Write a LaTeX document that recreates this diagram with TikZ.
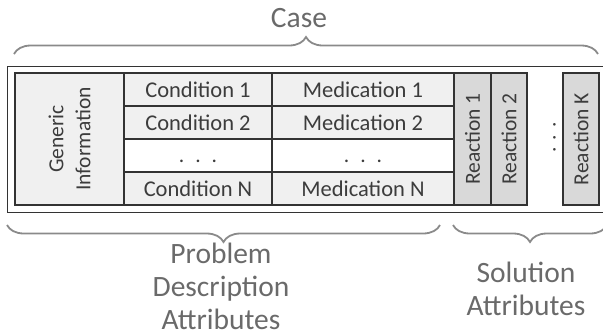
\documentclass[tikz,border=0pt]{standalone}
\usepackage{fontspec}
\setmainfont{Carlito}
\usetikzlibrary{decorations.pathreplacing}
\definecolor{edge}{HTML}{333333}
\definecolor{cellfill}{HTML}{F0F0F0}
\definecolor{reactfill}{HTML}{D9D9D9}
\definecolor{celltext}{HTML}{3C3C3C}
\definecolor{labeltext}{HTML}{6A6A6A}
\definecolor{bracecol}{HTML}{8A8A8A}

\begin{document}
\begin{tikzpicture}[x=1pt,y=-1pt,
  frame/.style={draw=edge, line width=1.1pt},
  cell/.style={frame, fill=cellfill, inner sep=0pt, outer sep=0pt, anchor=north west,
    text=celltext, font=\fontsize{22.5}{26}\selectfont},
  blank/.style={cell, fill=white},
  rcell/.style={cell, anchor=center, fill=reactfill, rotate=90,
    minimum width=132pt, font=\fontsize{21.5}{25}\selectfont},
  dotrow/.style={inner sep=0pt, text=celltext, font=\fontsize{21.5}{25}\selectfont},
  label/.style={text=labeltext, font=\fontsize{29.5}{33}\selectfont,
    align=center, inner sep=0pt},
  bracket/.style={draw=bracecol, line width=1.8pt, decorate,
    decoration={brace, amplitude=17pt}},
]
\useasboundingbox (0,0) rectangle (603,330);
\clip (0,0) rectangle (603,330);

% outer case frame (runs past the right edge)
\node[frame, fill=white, anchor=north west, inner sep=0pt,
  minimum width=600pt, minimum height=146pt] (caseframe) at (7,66) {};

% generic information block
\node[cell, anchor=center, rotate=90, align=center, minimum width=132pt,
  minimum height=109pt, font=\fontsize{21.5}{27}\selectfont] (gen) at (69.5,139) {Generic\\Information};

% condition column
\node[cell, minimum width=148pt, minimum height=33pt] (cond1) at (124,73) {Condition 1};
\node[cell, minimum width=148pt, minimum height=33pt] (cond2) at (124,106) {Condition 2};
\node[blank, minimum width=148pt, minimum height=33pt] (condd) at (124,139) {};
\node[cell, minimum width=148pt, minimum height=33pt] (condN) at (124,172) {Condition N};

% medication column
\node[cell, minimum width=182pt, minimum height=33pt] (med1) at (272,73) {Medication 1};
\node[cell, minimum width=182pt, minimum height=33pt] (med2) at (272,106) {Medication 2};
\node[blank, minimum width=182pt, minimum height=33pt] (medd) at (272,139) {};
\node[cell, minimum width=182pt, minimum height=33pt] (medN) at (272,172) {Medication N};

% elision marks
\node[dotrow, anchor=base] (conddots) at (198,162) {.\hspace{11pt}.\hspace{11pt}.};
\node[dotrow, anchor=base] (meddots) at (363,162) {.\hspace{11pt}.\hspace{11pt}.};

% reaction columns
\node[rcell, minimum height=37pt] (r1) at (472.5,139) {Reaction 1};
\node[rcell, minimum height=36pt] (r2) at (509,139) {Reaction 2};
\node[dotrow, rotate=90, anchor=base] (rdots) at (555.5,137.5) {.\hspace{7pt}.\hspace{7pt}.};
\node[rcell, minimum height=36pt] (rK) at (581,139) {Reaction K};

% braces and their captions
\coordinate (tb1) at (14,54);
\coordinate (tb2) at (598,54);
\draw[bracket] (tb1) -- (tb2);
\node[label, anchor=base] (caselbl) at (299,27) {Case};

\coordinate (lb1) at (7,225);
\coordinate (lb2) at (440,225);
\draw[bracket] (lb2) -- (lb1);
\node[label, anchor=base] (problbl) at (221,329) {Problem\\Description\\Attributes};

\coordinate (rb1) at (453,225);
\coordinate (rb2) at (607,225);
\draw[bracket] (rb2) -- (rb1);
\node[label, anchor=base] (sollbl) at (526,315) {Solution\\Attributes};
\end{tikzpicture}
\end{document}
